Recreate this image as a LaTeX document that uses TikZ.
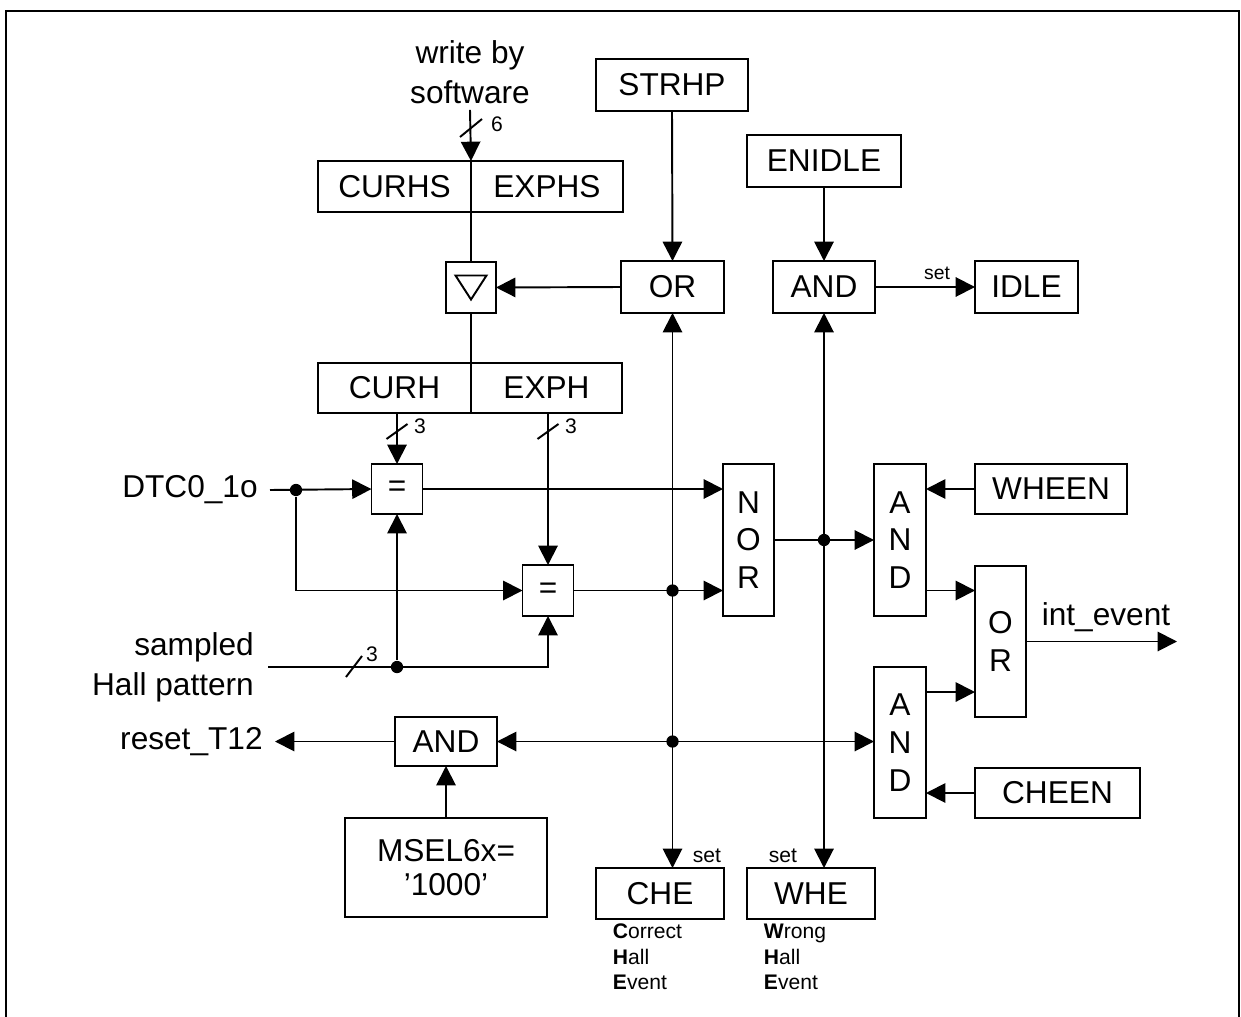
\documentclass[tikz,border=0pt]{standalone}
\usepackage{fontspec}
\setmainfont{Liberation Sans}
\usetikzlibrary{positioning, calc, arrows.meta}

\begin{document}
\begin{tikzpicture}[
    x=0.02cm, y=-0.02cm,
    line width=1.1pt,
    >={Triangle[length=11pt, width=11pt]},
    block/.style={rectangle, draw, inner sep=0pt, outer sep=0pt, minimum height=1.02cm, align=center, font=\fontsize{18}{21.5}\selectfont},
    txt/.style={inner sep=6.5pt, align=right, font=\fontsize{18}{22.7}\selectfont},
    small/.style={inner sep=0pt, font=\fontsize{12}{14.5}\selectfont},
    tiny/.style={inner sep=0pt, font=\fontsize{11}{12}\selectfont},
    dot/.style={circle, fill, inner sep=0pt, minimum size=7pt}
]
    \useasboundingbox (0,0) rectangle (1241,1017);

    % Frame
    \draw[line width=1.4pt] (6,1017) -- (6,11) -- (1239,11) -- (1239,1017);

    % Hall registers
    \node[txt, align=center, inner sep=3pt] (wsw) at (470,72) {write by\\software};
    \node[block, minimum width=3.06cm] (curhs) at (394.5,186.5) {CURHS};
    \node[block, minimum width=3.04cm, right=0pt of curhs] (exphs) {EXPHS};
    \node[block, minimum width=1cm] (tri) at (471,287.5) {};
    \node[block, minimum width=3.06cm, minimum height=1cm] (curh) at (394.5,388) {CURH};
    \node[block, minimum width=3.02cm, minimum height=1cm, right=0pt of curh] (exph) {EXPH};
    \draw ($(tri)+(-15.5,-12)$) -- ($(tri)+(15.5,-12)$) -- ($(tri)+(0,12)$) -- cycle;

    % Control bits
    \node[block, minimum width=3.04cm, minimum height=1.04cm] (strhp) at (672,85) {STRHP};
    \node[block, minimum width=2.06cm, minimum height=1.04cm] (or1) at (672.5,287) {OR};
    \node[block, minimum width=3.08cm, minimum height=1.04cm] (enidle) at (824,161) {ENIDLE};
    \node[block, minimum width=2.04cm, minimum height=1.04cm] (andi) at (824,287) {AND};
    \node[block, minimum width=2.06cm, minimum height=1.04cm] (idle) at (1026.5,287) {IDLE};

    % Comparators
    \node[block, minimum width=1.02cm, minimum height=1cm] (eq1) at (397,489) {=};
    \node[block, minimum width=1.02cm, minimum height=1.02cm] (eq2) at (548,590.5) {=};
    \node[block, minimum width=1.02cm, minimum height=3.04cm] (nor) at (748.5,540) {N\\O\\R};

    % Event logic
    \node[block, minimum width=1.04cm, minimum height=3.04cm] (andw) at (900,540) {A\\N\\D};
    \node[block, minimum width=1.04cm, minimum height=3.02cm] (andc) at (900,742.5) {A\\N\\D};
    \node[block, minimum width=1.02cm, minimum height=3.02cm] (or2) at (1000.5,641.5) {O\\R};
    \node[block, minimum width=3.04cm, minimum height=1cm] (wheen) at (1051,489) {WHEEN};
    \node[block, minimum width=3.3cm, minimum height=1cm] (cheen) at (1057.5,793) {CHEEN};
    \node[block, minimum width=2.04cm, minimum height=0.98cm] (andr) at (446,741.5) {AND};
    \node[block, minimum width=4.04cm, minimum height=1.98cm, font=\fontsize{18}{19.5}\selectfont] (msel) at (446,867.5) {MSEL6x=\\'1000'};
    \node[block, minimum width=2.56cm] (che) at (660,893.5) {CHE};
    \node[block, minimum width=2.56cm] (whe) at (811,893.5) {WHE};

    % Signal names
    \node[txt, anchor=east] (dtc) at (270,490) {DTC0\_1o};
    \node[txt, anchor=east, inner sep=7.5pt] (samp) at (268,667) {sampled\\Hall pattern};
    \node[txt, anchor=east] (rst) at (275,741.5) {reset\_T12};
    \node[txt, anchor=base, inner sep=0pt] (ievt) at (1106,625) {int\_event};
    \coordinate (out) at (1177,641.5);

    % Small labels
    \node[small] (n6) at (497,124) {6};
    \node[small] (n3a) at (420,426) {3};
    \node[small] (n3b) at (571,426) {3};
    \node[small] (n3c) at (372,654) {3};
    \node[tiny] (setidle) at (937,273) {set};
    \node[small] (setche) at (707,856) {set};
    \node[small] (setwhe) at (783,856) {set};
    \node[small, anchor=west, align=left] (cheleg) at (612,957) {\textbf{C}orrect\\\textbf{H}all\\\textbf{E}vent};
    \node[small, anchor=west, align=left] (wheleg) at (763,957) {\textbf{W}rong\\\textbf{H}all\\\textbf{E}vent};

    % Junctions
    \node[dot] (d1) at (296,490) {};
    \node[dot] (d2) at (eq1.south |- samp.east) {};
    \node[dot] (d3) at (or1.south |- eq2.east) {};
    \node[dot] (d4) at (or1.south |- andr.east) {};
    \node[dot] (d5) at (andi.south |- nor.east) {};

    % Register path
    \draw[->] (wsw.south) -- (curhs.north east);
    \draw (curhs.south east) -- (tri.north);
    \draw (tri.south) -- (curh.north east);
    \draw[->] (or1.west) -- (tri.east);
    \draw[->] (strhp.south) -- (or1.north);
    \draw[->] (enidle.south) -- (andi.north);
    \draw[->] (andi.east) -- (idle.west);
    \draw[<->] (or1.south) -- (or1.south |- che.north);
    \draw[<->] (andi.south) -- (andi.south |- whe.north);

    % Compare path
    \draw[->] (eq1.north |- curh.south) -- (eq1.north);
    \draw[->] (eq2.north |- exph.south) -- (eq2.north);
    \draw[->] (dtc.east) -- (eq1.west);
    \draw[->] (d1) |- (eq2.west);
    \draw[->] (samp.east) -| (eq2.south);
    \draw[->] (d2) -- (eq1.south);
    \draw[->] (eq1.east) -- (eq1.east -| nor.west);
    \draw[->] (eq2.east) -- (eq2.east -| nor.west);
    \draw[->] (nor.east) -- (nor.east -| andw.west);

    % Event path
    \draw[->] (wheen.west) -- (wheen.west -| andw.east);
    \draw[->] (andw.east |- eq2.east) -- (or2.west |- eq2.east);
    \draw[->] ($(andc.north east)+(0,25)$) -- ($(andc.north east -| or2.west)+(0,25)$);
    \draw[->] (cheen.west) -- (cheen.west -| andc.east);
    \draw[->] (or2.east) -- (out);
    \draw[<->] (andr.east) -- (andr.east -| andc.west);
    \draw[->] (andr.west) -- (rst.east);
    \draw[->] (msel.north) -- (andr.south);

    % Bus widths
    \draw (471,128) ++(-11,9) -- ++(22,-18);
    \draw (eq1.north |- n3a) ++(-10.5,13) -- ++(21,-15);
    \draw (eq2.north |- n3b) ++(-10.5,13) -- ++(21,-15);
    \draw (354,666.5) ++(-8,10.5) -- ++(16,-21);
\end{tikzpicture}
\end{document}
